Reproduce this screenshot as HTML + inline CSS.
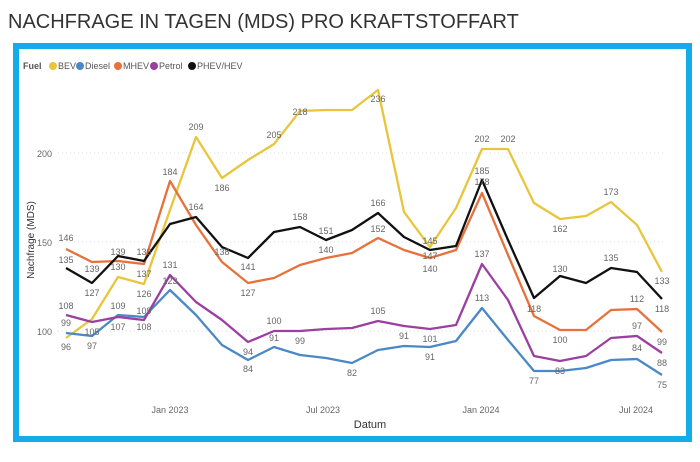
<!DOCTYPE html>
<html><head><meta charset="utf-8"><style>
body{margin:0;width:700px;height:457px;background:#fff;overflow:hidden;font-family:"Liberation Sans",sans-serif}
</style></head><body>
<svg width="700" height="457" xmlns="http://www.w3.org/2000/svg" font-family="Liberation Sans, sans-serif">
<text x="8" y="28" font-size="20" fill="#333">NACHFRAGE IN TAGEN (MDS) PRO KRAFTSTOFFART</text>
<rect x="16" y="46" width="673" height="393" fill="#fff" stroke="#13ABE9" stroke-width="6"/>
<g stroke="#ddd" stroke-width="1" stroke-dasharray="1,3">
<line x1="58" y1="153" x2="665" y2="153"/><line x1="58" y1="242" x2="665" y2="242"/><line x1="58" y1="331" x2="665" y2="331"/>
</g>
<g font-size="9" fill="#666" text-anchor="end">
<text x="52" y="157">200</text><text x="52" y="246">150</text><text x="52" y="335">100</text>
</g>
<text transform="translate(34,240) rotate(-90)" font-size="10" fill="#333" text-anchor="middle">Nachfrage (MDS)</text>
<g font-size="9" fill="#666" text-anchor="middle">
<text x="170" y="413">Jan 2023</text><text x="323" y="413">Jul 2023</text><text x="481" y="413">Jan 2024</text><text x="636" y="413">Jul 2024</text>
</g>
<text x="370" y="428" font-size="11" fill="#333" text-anchor="middle">Datum</text>
<g font-size="9">
<text x="23" y="69" font-weight="bold" fill="#555">Fuel</text>
<circle cx="53" cy="66" r="4" fill="#E8C53A"/><text x="58" y="69" fill="#555">BEV</text>
<circle cx="80" cy="66" r="4" fill="#4A88C7"/><text x="85" y="69" fill="#555">Diesel</text>
<circle cx="118" cy="66" r="4" fill="#E8703A"/><text x="123" y="69" fill="#555">MHEV</text>
<circle cx="154" cy="66" r="4" fill="#9B3FA0"/><text x="159" y="69" fill="#555">Petrol</text>
<circle cx="192" cy="66" r="4" fill="#111"/><text x="197" y="69" fill="#555">PHEV/HEV</text>
</g>
<g fill="none" stroke-width="2.3" stroke-linejoin="round">
<polyline stroke="#E8C53A" points="66,338 92,319 118,277 144,284 170,210 196,137 222,178 248,160 274,144 300,111 326,110 352,110 378,90 404,212 430,247 456,208 482,149 508,149 534,203 560,219 586,216 611,202 637,225 662,272"/>
<polyline stroke="#4A88C7" points="66,333 92,336 118,315 144,317 170,290 196,315 222,345 248,360 274,347 300,355 326,358 352,363 378,350 404,346 430,347 456,341 482,308 508,340 534,371 560,371 586,368 611,360 637,359 662,375"/>
<polyline stroke="#E8703A" points="66,249 92,262 118,261 144,264 170,181 196,225 222,262 248,283 274,278 300,265 326,258 352,253 378,238 404,250 430,258 456,250 482,193 508,255 534,316 560,330 586,330 611,310 637,309 662,332"/>
<polyline stroke="#9B3FA0" points="66,315 92,322 118,317 144,320 170,275 196,302 222,320 248,342 274,331 300,331 326,329 352,328 378,321 404,326 430,329 456,325 482,264 508,300 534,356 560,361 586,356 611,338 637,336 662,353"/>
<polyline stroke="#111" points="66,268 92,283 118,256 144,261 170,224 196,217 222,247 248,258 274,232 300,227 326,240 352,230 378,213 404,237 430,250 456,246 482,180 508,240 534,298 560,276 586,283 611,268 637,272 662,299"/>
</g>
<g font-size="9" fill="#666" text-anchor="middle">
<text x="66" y="241">146</text><text x="66" y="263">135</text><text x="92" y="272">139</text><text x="92" y="296">127</text>
<text x="118" y="255">139</text><text x="118" y="270">130</text><text x="144" y="255">136</text><text x="144" y="277">137</text><text x="144" y="297">126</text>
<text x="170" y="175">184</text><text x="196" y="130">209</text><text x="196" y="210">164</text><text x="222" y="191">186</text><text x="222" y="255">138</text>
<text x="248" y="270">141</text><text x="248" y="296">127</text><text x="274" y="138">205</text><text x="300" y="115">218</text><text x="300" y="220">158</text>
<text x="326" y="234">151</text><text x="326" y="253">140</text><text x="378" y="102">236</text><text x="378" y="206">166</text><text x="378" y="232">152</text>
<text x="430" y="244">145</text><text x="430" y="259">147</text><text x="430" y="272">140</text>
<text x="482" y="142">202</text><text x="508" y="142">202</text><text x="482" y="174">185</text><text x="482" y="185">178</text>
<text x="560" y="232">162</text><text x="611" y="195">173</text><text x="662" y="284">133</text>
<text x="66" y="309">108</text><text x="66" y="326">99</text><text x="66" y="350">96</text><text x="92" y="335">105</text><text x="92" y="349">97</text>
<text x="118" y="309">109</text><text x="118" y="330">107</text><text x="144" y="314">109</text><text x="144" y="330">108</text>
<text x="170" y="268">131</text><text x="170" y="284">123</text><text x="248" y="355">94</text><text x="248" y="372">84</text>
<text x="274" y="324">100</text><text x="274" y="341">91</text><text x="300" y="344">99</text><text x="352" y="376">82</text><text x="378" y="314">105</text>
<text x="404" y="339">91</text><text x="430" y="342">101</text><text x="430" y="360">91</text><text x="482" y="257">137</text><text x="482" y="301">113</text>
<text x="534" y="312">118</text><text x="534" y="384">77</text><text x="560" y="272">130</text><text x="560" y="343">100</text><text x="560" y="374">83</text>
<text x="611" y="261">135</text><text x="637" y="302">112</text><text x="637" y="329">97</text><text x="637" y="351">84</text>
<text x="662" y="312">118</text><text x="662" y="345">99</text><text x="662" y="366">88</text><text x="662" y="388">75</text>
</g>
</svg>
</body></html>
